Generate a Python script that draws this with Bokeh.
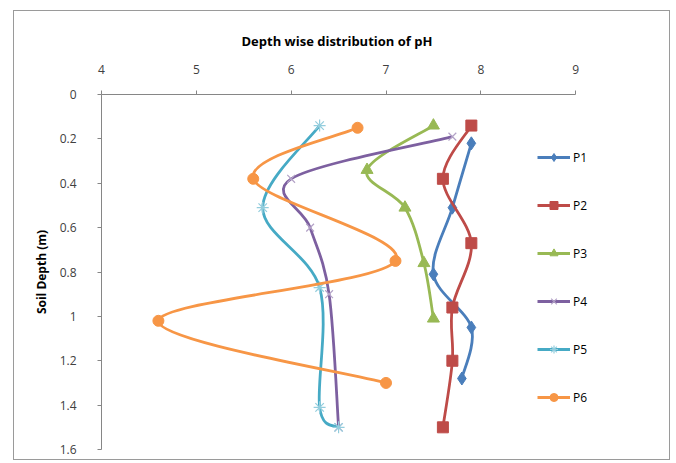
from bokeh.plotting import figure
from bokeh.models import Range1d, FixedTicker, Legend, LegendItem
from bokeh.embed import file_html
from bokeh.resources import INLINE

# ---- data ----
series_names = ["P1", "P2", "P3", "P4", "P5", "P6"]
p1_ph = [7.9, 7.7, 7.5, 7.9, 7.8]
p1_depth = [0.22, 0.51, 0.81, 1.05, 1.28]
p2_ph = [7.9, 7.6, 7.9, 7.7, 7.7, 7.6]
p2_depth = [0.14, 0.38, 0.67, 0.96, 1.2, 1.5]
p3_ph = [7.5, 6.8, 7.2, 7.4, 7.5]
p3_depth = [0.14, 0.34, 0.51, 0.76, 1.01]
p4_ph = [7.7, 6.0, 6.2, 6.4, 6.5]
p4_depth = [0.19, 0.38, 0.6, 0.9, 1.5]
p5_ph = [6.3, 5.7, 6.3, 6.3, 6.5]
p5_depth = [0.14, 0.51, 0.87, 1.41, 1.5]
p6_ph = [6.7, 5.6, 7.1, 4.6, 7.0]
p6_depth = [0.15, 0.38, 0.75, 1.02, 1.3]

x_ticks = [4, 5, 6, 7, 8, 9]
y_ticks = [0, 0.2, 0.4, 0.6, 0.8, 1.0, 1.2, 1.4, 1.6]
y_tick_labels = ["0", "0.2", "0.4", "0.6", "0.8", "1", "1.2", "1.4", "1.6"]

FONT = "Open Sans"
line_colors = ["#4A7EBB", "#BE4B48", "#98B954", "#7D60A0", "#46AAC5", "#F79646"]
marker_fill = ["#4A7EBB", "#BE4B48", "#98B954", "#B3A2C7", "#93CDDD", "#F79646"]
markers = ["diamond", "square", "triangle", "x", "asterisk", "circle"]
msizes = [13, 11, 12, 11, 12, 11]

all_x = [p1_ph, p2_ph, p3_ph, p4_ph, p5_ph, p6_ph]
all_y = [p1_depth, p2_depth, p3_depth, p4_depth, p5_depth, p6_depth]

# frame extends right past pH 9 so the legend (partly beside the axis end) is not clipped
p = figure(width=657, height=450, output_backend="svg", toolbar_location=None,
           x_axis_location="above",
           x_range=Range1d(4, 10), y_range=Range1d(1.6, 0),
           min_border_left=87, min_border_top=83, min_border_right=1, min_border_bottom=12,
           background_fill_color="white", border_fill_color="white")
p.styles = {"margin-left": "13px", "margin-top": "10px", "border": "1px solid #9A9A9A"}
p.outline_line_color = None
p.grid.visible = False

p.title.text = "Depth wise distribution of pH"
p.title.align = "left"
p.title.offset = 140
p.title.text_font = FONT
p.title.text_font_size = "13px"
p.title.text_font_style = "bold"
p.title.text_color = "#000000"
p.title.standoff = 23

for ax in (p.xaxis[0], p.yaxis[0]):
    ax.axis_line_color = "#868686"
    ax.major_tick_line_color = "#868686"
    ax.minor_tick_line_color = None
    ax.major_tick_in = 0
    ax.major_tick_out = 4
    ax.major_label_text_font = FONT
    ax.major_label_text_font_size = "12px"
    ax.major_label_text_color = "#404040"

p.xaxis.ticker = FixedTicker(ticks=x_ticks)
p.xaxis.bounds = (x_ticks[0], x_ticks[-1])
p.xaxis.major_label_standoff = 17
p.yaxis.ticker = FixedTicker(ticks=y_ticks)
p.yaxis.major_label_overrides = {t: l for t, l in zip(y_ticks, y_tick_labels)}
p.yaxis.major_label_standoff = 21
p.yaxis.axis_label = "Soil Depth (m)"
p.yaxis.axis_label_text_font = FONT
p.yaxis.axis_label_text_font_size = "12px"
p.yaxis.axis_label_text_font_style = "bold"
p.yaxis.axis_label_text_color = "#000000"
p.yaxis.axis_label_standoff = 7


def smooth_segments(xs, ys):
    # Bezier control points (Catmull-Rom style), like a spreadsheet's smoothed line
    n = len(xs)
    out = {k: [] for k in ("x0", "y0", "x1", "y1", "cx0", "cy0", "cx1", "cy1")}
    for i in range(n - 1):
        i0 = max(i - 1, 0)
        i3 = min(i + 2, n - 1)
        out["x0"].append(xs[i]); out["y0"].append(ys[i])
        out["x1"].append(xs[i + 1]); out["y1"].append(ys[i + 1])
        out["cx0"].append(xs[i] + (xs[i + 1] - xs[i0]) / 6.0)
        out["cy0"].append(ys[i] + (ys[i + 1] - ys[i0]) / 6.0)
        out["cx1"].append(xs[i + 1] - (xs[i3] - xs[i]) / 6.0)
        out["cy1"].append(ys[i + 1] - (ys[i3] - ys[i]) / 6.0)
    return out


items = []
for name, xs, ys, lc, mf, mk, ms in zip(series_names, all_x, all_y, line_colors,
                                         marker_fill, markers, msizes):
    seg = smooth_segments(xs, ys)
    r_line = p.bezier(x0=seg["x0"], y0=seg["y0"], x1=seg["x1"], y1=seg["y1"],
                      cx0=seg["cx0"], cy0=seg["cy0"], cx1=seg["cx1"], cy1=seg["cy1"],
                      line_color=lc, line_width=2.8)
    if mk in ("x", "asterisk"):
        r_pts = p.scatter(xs, ys, marker=mk, size=ms, line_color=mf, line_width=1.2)
    else:
        r_pts = p.scatter(xs, ys, marker=mk, size=ms, fill_color=mf, line_color=mf)
    items.append(LegendItem(label=name, renderers=[r_line, r_pts]))

legend = Legend(items=items, location=(436, 42), orientation="vertical",
                glyph_width=33, glyph_height=20, label_height=20, spacing=28,
                padding=0, margin=0, label_standoff=3,
                label_text_font=FONT, label_text_font_size="12px", label_text_color="#000000",
                border_line_color=None, background_fill_alpha=0)
p.add_layout(legend, "center")

open("out.html", "w").write(file_html(p, INLINE))
